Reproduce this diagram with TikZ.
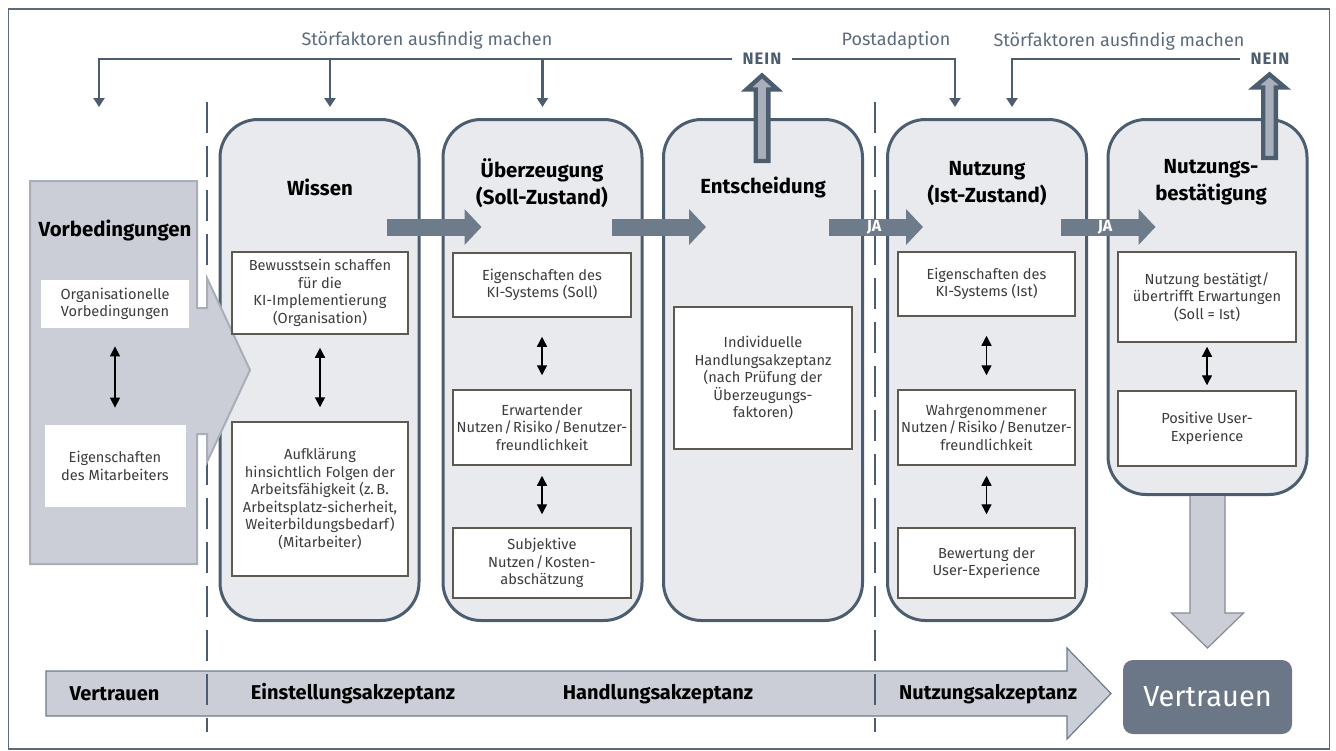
\documentclass[tikz,border=0pt]{standalone}
\usepackage{fontspec}
\setmainfont{Fira Sans}
\usetikzlibrary{arrows.meta}
\definecolor{dunkel}{HTML}{4B5D6E}
\definecolor{pfeil}{HTML}{6E7B8A}
\definecolor{hell}{HTML}{E9EAEE}
\definecolor{vbgrau}{HTML}{CBCED6}
\definecolor{vbrand}{HTML}{A9AEB8}
\definecolor{neinfill}{HTML}{A9AFBA}
\definecolor{boxrand}{HTML}{5E5A52}
\definecolor{textgrau}{HTML}{5B6B7B}
\definecolor{textdunkel}{HTML}{3C3C3C}
\definecolor{vertrauenbg}{HTML}{6B7687}
\newcommand{\klein}{\fontsize{7.3}{8.8}\selectfont}
\tikzset{
  rahmen/.style={draw=textgrau, line width=0.75pt},
  trenn/.style={draw=dunkel, line width=1.2pt, dash pattern=on 15.5pt off 6.5pt},
  phase/.style={draw=dunkel, line width=1.5pt, fill=hell, rounded corners=19pt,
    minimum width=99.5pt, minimum height=250.5pt, inner sep=0pt, outer sep=0pt},
  inhalt/.style={draw=boxrand, line width=0.75pt, fill=white, align=center,
    inner sep=1pt, font=\klein, text=textdunkel},
  vbinhalt/.style={fill=white, align=center, inner sep=1pt, font=\klein, text=textdunkel},
  titel/.style={align=center, font=\fontsize{10.2}{13.5}\selectfont\bfseries, text=black},
  vorb/.style={draw=vbrand, line width=1pt, fill=vbgrau},
  band/.style={draw=pfeil, line width=0.6pt, fill=vbgrau},
  bandtext/.style={font=\fontsize{10}{12}\selectfont\bfseries, text=black},
  dick/.style={draw=pfeil, line width=8.5pt, -{Triangle[length=8.5pt,width=17.5pt]}},
  ja/.style={font=\fontsize{8}{9}\selectfont\bfseries, text=white, inner sep=0pt},
  neinpf/.style={draw=dunkel, line width=2.2pt, fill=neinfill, line join=miter},
  abpfeil/.style={draw=vbrand!80!black, line width=0.6pt, fill=vbgrau},
  wechsel/.style={draw=black, line width=0.7pt,
    {Triangle[length=5pt,width=5pt]}-{Triangle[length=5pt,width=5pt]}},
  rueck/.style={draw=dunkel, line width=1.3pt, -{Triangle[length=4.5pt,width=5.5pt]}},
  oben/.style={font=\fontsize{9}{11}\selectfont, text=textgrau},
  neintext/.style={font=\fontsize{8.3}{10}\selectfont\bfseries\addfontfeature{LetterSpace=6},
    text=dunkel, inner sep=5pt},
  vertrauenbox/.style={fill=vertrauenbg, rounded corners=5pt, minimum width=84.5pt,
    minimum height=37pt, text=white, font=\fontsize{14.5}{16}\selectfont}
}

\begin{document}
\begin{tikzpicture}[x=0.5pt,y=-0.5pt]
\useasboundingbox (0,0) rectangle (1336,750);
\draw[rahmen] (8.5,9) rectangle (1329.5,749);

% Akzeptanzband unten
\draw[band] (46,671) -- (1067,671) -- (1067,648) -- (1111,693.5) -- (1067,739) -- (1067,716) -- (46,716) -- cycle;
\node[bandtext] (vt1) at (114.5,693.5) {Vertrauen};
\node[bandtext] (einst) at (353,694) {Einstellungsakzeptanz};
\node[bandtext] (handl) at (658,694) {Handlungsakzeptanz};
\node[bandtext] (nutzakz) at (988,694) {Nutzungsakzeptanz};

\draw[trenn] (207,102) -- (207,732);
\draw[trenn] (875,102) -- (875,732);

% Phasen
\node[phase] (wissen) at (319.5,370) {};
\node[phase] (ueber) at (542.5,370) {};
\node[phase] (ents) at (763,370) {};
\node[phase] (nutz) at (987,370) {};
\node[phase, minimum height=187.5pt] (best) at (1207.5,307) {};

% Vorbedingungen
\draw[vorb] (30,181) -- (197,181) -- (197,308) -- (207,308) -- (207,278) -- (250,370)
  -- (207,462) -- (207,434) -- (197,434) -- (197,564) -- (30,564) -- cycle;
\node[titel] (tv) at (115,230) {Vorbedingungen};
\node[vbinhalt, minimum width=74pt, minimum height=24pt] (vb1) at (115,304) {Organisationelle\\Vorbedingungen};
\node[vbinhalt, minimum width=70.5pt, minimum height=41pt] (vb2) at (115,466) {Eigenschaften\\des Mitarbeiters};
\draw[wechsel, shorten <=9pt, shorten >=8.5pt] (vb1) -- (vb2);

% Pfeile zwischen den Phasen
\coordinate (hoehe) at (0,227);
\draw[dick] ([xshift=-16.25pt]wissen.east |- hoehe) -- ([xshift=19.25pt]ueber.west |- hoehe);
\draw[dick] ([xshift=-15.25pt]ueber.east |- hoehe) -- ([xshift=21.25pt]ents.west |- hoehe);
\draw[dick] ([xshift=-16.75pt]ents.east |- hoehe) -- ([xshift=17.75pt]nutz.west |- hoehe);
\draw[dick] ([xshift=-12.75pt]nutz.east |- hoehe) -- ([xshift=23.75pt]best.west |- hoehe);
\node[ja] (ja1) at (874,227) {JA};
\node[ja] (ja2) at (1105,227) {JA};

\draw[neinpf] (ents.north) ++(-7.3,41.5) -- ++(0,-71.5) -- ++(-9.2,0) -- ++(15.5,-14)
  -- ++(15.5,14) -- ++(-9.2,0) -- ++(0,71.5) -- cycle;
\draw[neinpf] (best.north) ++(55.7,38.5) -- ++(0,-70.5) -- ++(-9.2,0) -- ++(15.5,-13)
  -- ++(15.5,13) -- ++(-9.2,0) -- ++(0,70.5) -- cycle;

\node[vertrauenbox] (vertrauen) at (1207.5,697) {Vertrauen};
\draw[abpfeil] (best.south) ++(-17.5,1.5) -- ++(0,117) -- ++(-18.5,0) -- ++(36,35)
  -- ++(36,-35) -- ++(-18.5,0) -- ++(0,-117);

% Titel
\node[titel] (tw) at (320,187) {Wissen};
\node[titel] (tu) at (542,183) {Überzeugung\\(Soll-Zustand)};
\node[titel] (te) at (763,187) {Entscheidung};
\node[titel] (tn) at (987,184) {Nutzung\\(Ist-Zustand)};
\node[titel] (tb) at (1211,182) {Nutzungs-\\bestätigung};

% Wissen
\node[inhalt, minimum width=88pt, minimum height=41pt] (w1) at (320,293)
  {Bewusstsein schaffen\\für die\\KI-Implementierung\\(Organisation)};
\node[inhalt, minimum width=88pt, minimum height=77pt] (w2) at (320,499)
  {Aufklärung\\hinsichtlich Folgen der\\Arbeitsfähigkeit (z.\,B.\\Arbeitsplatz-sicherheit,\\Weiterbildungsbedarf)\\(Mitarbeiter)};
\draw[wechsel, shorten <=6.5pt, shorten >=7pt] (w1) -- (w2);

% Ueberzeugung
\node[inhalt, minimum width=89pt, minimum height=32pt] (u1) at (542,285)
  {Eigenschaften des\\KI-Systems (Soll)};
\node[inhalt, minimum width=89pt, minimum height=37.5pt] (u2) at (542,427.5)
  {Erwartender\\Nutzen\kern.6pt/\kern.6pt Risiko\kern.6pt/\kern.6pt Benutzer-\\freundlichkeit};
\node[inhalt, minimum width=89pt, minimum height=35pt] (u3) at (542,563)
  {Subjektive\\Nutzen\kern.6pt/\kern.6pt Kosten-\\abschätzung};
\draw[wechsel, shorten <=9.5pt, shorten >=7pt] (u1) -- (u2);
\draw[wechsel, shorten <=5pt, shorten >=6.5pt] (u2) -- (u3);

% Entscheidung
\node[inhalt, minimum width=89pt, minimum height=71pt] (e1) at (763,378)
  {Individuelle\\Handlungsakzeptanz\\(nach Prüfung der\\Überzeugungs-\\faktoren)};

% Nutzung
\node[inhalt, minimum width=88.5pt, minimum height=32pt] (n1) at (986.5,284)
  {Eigenschaften des\\KI-Systems (Ist)};
\node[inhalt, minimum width=88.5pt, minimum height=37.5pt] (n2) at (986.5,427.5)
  {Wahrgenommener\\Nutzen\kern.6pt/\kern.6pt Risiko\kern.6pt/\kern.6pt Benutzer-\\freundlichkeit};
\node[inhalt, minimum width=88.5pt, minimum height=35pt] (n3) at (986.5,563)
  {Bewertung der\\User-Experience};
\draw[wechsel, shorten <=9.5pt, shorten >=7pt] (n1) -- (n2);
\draw[wechsel, shorten <=5pt, shorten >=6.5pt] (n2) -- (n3);

% Nutzungsbestaetigung
\node[inhalt, minimum width=89pt, minimum height=45pt] (b1) at (1207,297)
  {Nutzung bestätigt/\\übertrifft Erwartungen\\(Soll = Ist)};
\node[inhalt, minimum width=89pt, minimum height=37.5pt] (b2) at (1207,428.5)
  {Positive User-\\Experience};
\draw[wechsel, shorten <=2pt, shorten >=2.5pt] (b1) -- (b2);

% Rueckkopplung oben
\node[neintext] (nein1) at (762,59) {NEIN};
\node[neintext] (nein2) at (1270,59) {NEIN};
\node[oben] (stoer1) at (427,40) {Störfaktoren ausfindig machen};
\node[oben] (post) at (896,40) {Postadaption};
\node[oben] (stoer2) at (1119,41) {Störfaktoren ausfindig machen};
\coordinate (vbziel) at (99,107);
\draw[rueck] (nein1.west) -| (vbziel);
\draw[rueck] ([xshift=5.25pt]wissen.north |- nein1) -- ([xshift=5.25pt,yshift=6.25pt]wissen.north);
\draw[rueck] (ueber.north |- nein1) -- ([yshift=6.25pt]ueber.north);
\draw[rueck] (nein1.east) -| ([xshift=-16pt,yshift=6.25pt]nutz.north);
\draw[rueck] (nein2.west) -| ([xshift=12.5pt,yshift=6.25pt]nutz.north);
\end{tikzpicture}
\end{document}
